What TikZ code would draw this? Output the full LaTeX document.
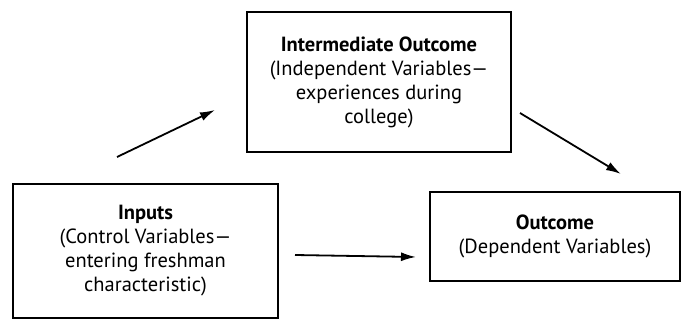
\documentclass[tikz,border=0pt]{standalone}
\usepackage{fontspec}
\setmainfont{PT Sans}
\usetikzlibrary{arrows.meta}
\begin{document}
\begin{tikzpicture}[x=1pt,y=-1pt,
  box/.style={draw=black, line width=1.8pt, align=center, inner sep=0pt,
    font=\fontsize{20.5}{24}\selectfont},
  conn/.style={line width=1.8pt, -{Latex[length=15pt,width=9pt]}}]
\useasboundingbox (0,0) rectangle (682,320);
\node[box, minimum width=264pt, minimum height=140pt] (inter) at (379,82)
  {\textbf{Intermediate Outcome}\\(Independent Variables---\\experiences during\\college)};
\node[box, minimum width=265pt, minimum height=134pt] (inputs) at (145.5,251)
  {\textbf{Inputs}\\(Control Variables---\\entering freshman\\characteristic)};
\node[box, minimum width=250pt, minimum height=89pt] (outcome) at (555,236.5)
  {\textbf{Outcome}\\(Dependent Variables)};
\coordinate (a1s) at (117,157);
\coordinate (a1e) at (215,110);
\coordinate (a2s) at (520,113);
\coordinate (a2e) at (621,174);
\coordinate (a3s) at (295,255);
\coordinate (a3e) at (416,257);
\draw[conn] (a1s) -- (a1e);
\draw[conn] (a2s) -- (a2e);
\draw[conn] (a3s) -- (a3e);
\end{tikzpicture}
\end{document}
